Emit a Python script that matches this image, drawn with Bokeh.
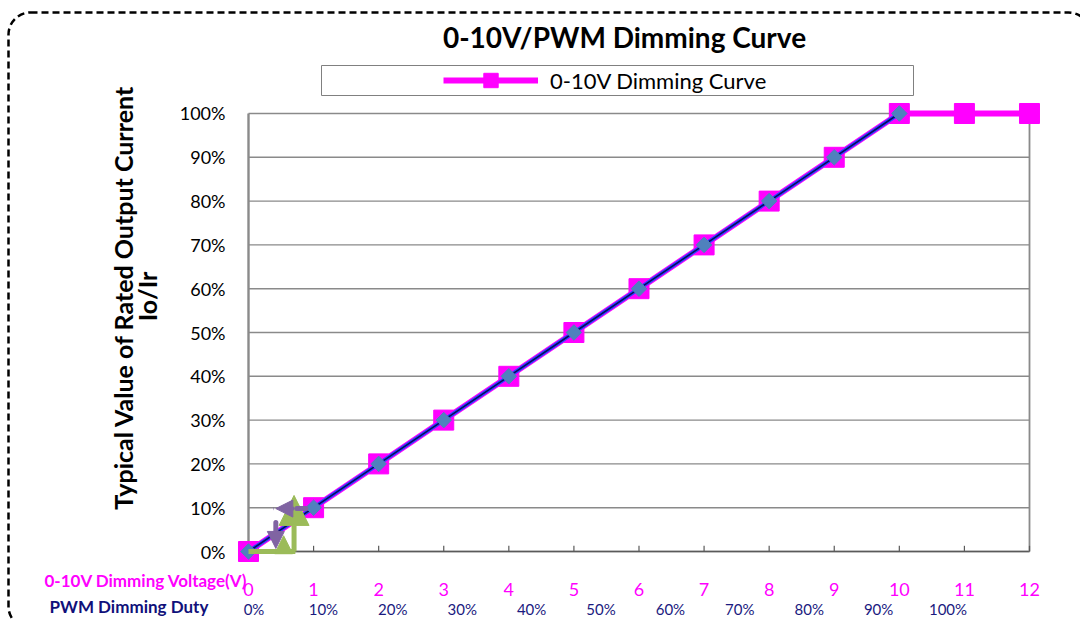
import numpy as np
from bokeh.plotting import figure
from bokeh.models import (Range1d, LinearAxis, FixedTicker, PrintfTickFormatter, Label,
                          BoxAnnotation, Legend, LegendItem, Arrow, NormalHead)
from bokeh.embed import file_html
from bokeh.resources import INLINE

# ---------------- data ----------------
voltage = [0, 1, 2, 3, 4, 5, 6, 7, 8, 9, 10, 11, 12]
current = [0, 10, 20, 30, 40, 50, 60, 70, 80, 90, 100, 100, 100]
pwm_voltage = [0, 1, 2, 3, 4, 5, 6, 7, 8, 9, 10]
pwm_current = [0, 10, 20, 30, 40, 50, 60, 70, 80, 90, 100]
x_ticks = [0, 1, 2, 3, 4, 5, 6, 7, 8, 9, 10, 11, 12]
y_ticks = [0, 10, 20, 30, 40, 50, 60, 70, 80, 90, 100]
pwm_ticks = [0, 10, 20, 30, 40, 50, 60, 70, 80, 90, 100]

title_text = "0-10V/PWM Dimming Curve"
legend_text = "0-10V Dimming Curve"
ylabel_1 = "Typical Value of Rated Output Current"
ylabel_2 = "Io/Ir"
xlabel_volt = "0-10V Dimming Voltage(V)"
xlabel_pwm = "PWM Dimming Duty"

# annotation arrows (data units)
green_h = (0, 0, 0.72, 0)
green_v = (0.70, 0, 0.70, 12.8)
green_small = (0.54, 0, 0.54, 3.6)
purple_h = (0.88, 9.8, 0.42, 9.8)
purple_v = (0.42, 6.6, 0.42, 0.7)

MAGENTA = "#FF00FF"
NAVY = "#1A1A80"
GRID = "#8A8A8A"
FONT = "Lato"
W, H = 1080, 619

# the frame spans the whole canvas; axes are placed at fixed locations
p = figure(width=W, height=H,
           x_range=Range1d(-3.8105, 12.7837), y_range=Range1d(-15.525, 125.799),
           x_axis_type=None, y_axis_type=None,
           output_backend="svg", toolbar_location=None,
           min_border=0, min_border_left=0, min_border_right=0,
           min_border_top=0, min_border_bottom=0)
p.outline_line_color = None
p.background_fill_color = "white"
p.border_fill_color = "white"

# y axis (labels only)
yaxis = LinearAxis(ticker=FixedTicker(ticks=y_ticks), fixed_location=-0.1537,
                   formatter=PrintfTickFormatter(format="%d%%"))
yaxis.axis_line_color = None
yaxis.major_tick_line_color = None
yaxis.minor_tick_line_color = None
yaxis.major_label_standoff = 7
yaxis.major_label_text_font = FONT
yaxis.major_label_text_font_size = "18px"
yaxis.major_label_text_color = "black"
p.add_layout(yaxis, "left")

# x axis: voltage
xaxis = LinearAxis(ticker=FixedTicker(ticks=x_ticks), fixed_location=-2.511)
xaxis.axis_line_color = None
xaxis.major_tick_line_color = None
xaxis.minor_tick_line_color = None
xaxis.major_label_standoff = 15
xaxis.major_label_text_font = FONT
xaxis.major_label_text_font_size = "18px"
xaxis.major_label_text_color = MAGENTA
p.add_layout(xaxis, "below")

# x axis: PWM duty
p.extra_x_ranges = {"pwm": Range1d(-36.53, 119.09)}
paxis = LinearAxis(x_range_name="pwm", ticker=FixedTicker(ticks=pwm_ticks),
                   fixed_location=-9.589,
                   formatter=PrintfTickFormatter(format="%d%%"))
paxis.axis_line_color = None
paxis.major_tick_line_color = None
paxis.minor_tick_line_color = None
paxis.major_label_standoff = 0
paxis.major_label_text_font = FONT
paxis.major_label_text_font_size = "15px"
paxis.major_label_text_color = NAVY
p.add_layout(paxis, "below")

# gridlines and plot-area border
p.segment(x0=[x_ticks[0]] * len(y_ticks), y0=y_ticks,
          x1=[x_ticks[-1]] * len(y_ticks), y1=y_ticks,
          line_color=GRID, line_width=1.4)
p.segment(x0=[x_ticks[0]], y0=[y_ticks[0]], x1=[x_ticks[-1]], y1=[y_ticks[0]],
          line_color="#5A5A5A", line_width=1.6)
p.segment(x0=[x_ticks[0], x_ticks[-1]], y0=[y_ticks[0]] * 2,
          x1=[x_ticks[0], x_ticks[-1]], y1=[y_ticks[-1]] * 2,
          line_color=GRID, line_width=[2.4, 1.8])
p.segment(x0=x_ticks, y0=[0] * len(x_ticks), x1=x_ticks, y1=[1.3] * len(x_ticks),
          line_color="#5A5A5A", line_width=1.2)

# series
line_r = p.line(voltage, current, line_color=MAGENTA, line_width=6)
sq_r = p.scatter(voltage, current, marker="square", size=20,
                 fill_color=MAGENTA, line_color=MAGENTA)
p.line(pwm_voltage, pwm_current, line_color="#2846FF", line_width=4)
p.line(pwm_voltage, pwm_current, line_color="#0A0A60", line_width=1.6)
p.scatter(pwm_voltage, pwm_current, marker="square", angle=np.pi / 4, size=11,
          fill_color="#4F81BD", line_color="#4F81BD")

# arrows
GREEN = "#9BBB59"
PURPLE = "#8064A2"
p.add_layout(Arrow(x_start=green_h[0], y_start=green_h[1], x_end=green_h[2], y_end=green_h[3],
                   line_color=GREEN, line_width=5, end=None))
p.add_layout(Arrow(x_start=green_small[0], y_start=green_small[1], x_end=green_small[2],
                   y_end=green_small[3], line_alpha=0, line_width=1,
                   end=NormalHead(size=18, fill_color=GREEN, line_color=GREEN)))
p.add_layout(Arrow(x_start=green_v[0], y_start=green_v[1], x_end=green_v[2], y_end=green_v[3],
                   line_color=GREEN, line_width=5,
                   end=NormalHead(size=30, fill_color=GREEN, line_color=GREEN)))
p.add_layout(Arrow(x_start=purple_h[0], y_start=purple_h[1], x_end=purple_h[2], y_end=purple_h[3],
                   line_color=PURPLE, line_width=5, line_dash="9 5", line_cap="round",
                   end=NormalHead(size=17, fill_color=PURPLE, line_color=PURPLE)))
p.add_layout(Arrow(x_start=purple_v[0], y_start=purple_v[1], x_end=purple_v[2], y_end=purple_v[3],
                   line_color=PURPLE, line_width=5, line_dash="9 5", line_cap="round",
                   end=NormalHead(size=17, fill_color=PURPLE, line_color=PURPLE)))

# screen positions (page pixels, y from the top) converted to frame units
def sy(y_px):
    return H - y_px

# legend box + legend
p.add_layout(BoxAnnotation(left=321, right=913, top=sy(65), bottom=sy(95),
                           left_units="screen", right_units="screen",
                           top_units="screen", bottom_units="screen",
                           fill_color="white", fill_alpha=1,
                           line_color="#808080", line_alpha=1, line_width=1))
legend = Legend(items=[LegendItem(label=legend_text, renderers=[line_r, sq_r])],
                location=(443, sy(98)), orientation="horizontal",
                glyph_width=95, glyph_height=36, padding=0, margin=0, spacing=0,
                label_standoff=12, border_line_alpha=0, background_fill_alpha=0,
                label_text_font=FONT, label_text_font_size="22px",
                label_text_color="black")
p.add_layout(legend)

# outer dashed rounded border
p.add_layout(BoxAnnotation(left=8, right=1090, top=sy(12), bottom=sy(628),
                           left_units="screen", right_units="screen",
                           top_units="screen", bottom_units="screen",
                           fill_alpha=0, line_color="black", line_alpha=1, line_width=2.5,
                           line_dash="7 4", border_radius=22))

# texts
def lbl(text, x, y_px, size, color="black", bold=True, align="center", angle=0):
    p.add_layout(Label(x=x, y=sy(y_px), x_units="screen", y_units="screen", text=text,
                       text_font=FONT, text_font_size=size, text_color=color,
                       text_font_style="bold" if bold else "normal",
                       text_align=align, text_baseline="middle", angle=angle))

lbl(title_text, 624, 36, "28px")
lbl(ylabel_1, 122, 297, "25px", angle=np.pi / 2)
lbl(ylabel_2, 146, 296, "25px", angle=np.pi / 2)
lbl(xlabel_volt, 44, 580, "17px", color=MAGENTA, align="left")
lbl(xlabel_pwm, 49, 606, "17px", color="#10107A", align="left")

open("out.html", "w").write(file_html(p, INLINE))
